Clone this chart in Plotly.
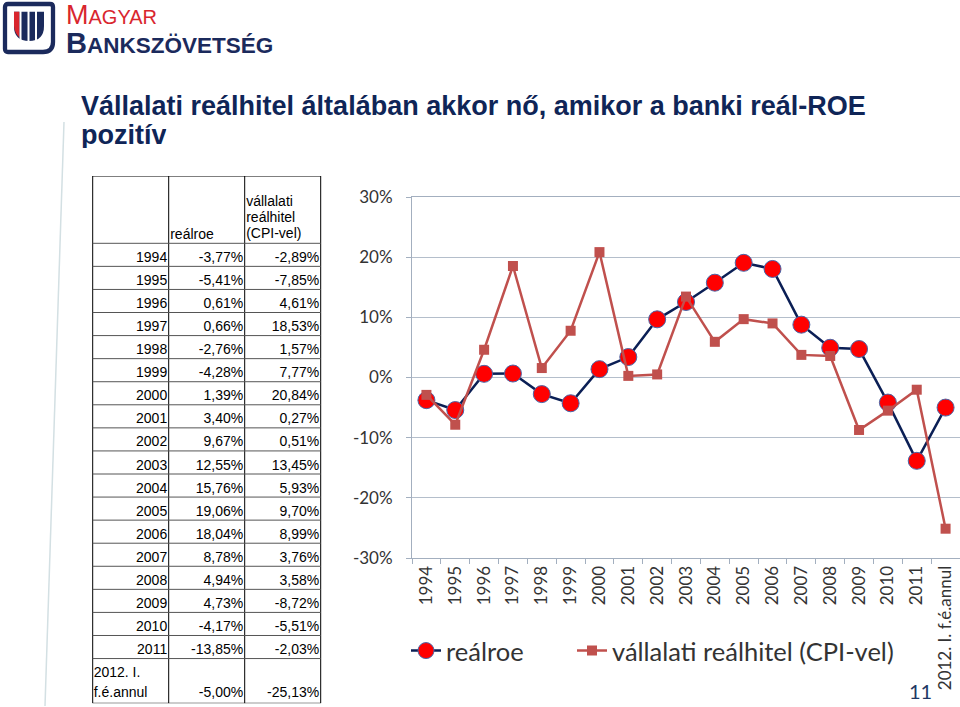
import plotly.graph_objects as go

# ---------------- data ----------------
categories = ["1994", "1995", "1996", "1997", "1998", "1999", "2000", "2001", "2002",
              "2003", "2004", "2005", "2006", "2007", "2008", "2009", "2010", "2011",
              "2012. I. f.é.annul"]
realroe = [-3.77, -5.41, 0.61, 0.66, -2.76, -4.28, 1.39, 3.40, 9.67, 12.55, 15.76,
           19.06, 18.04, 8.78, 4.94, 4.73, -4.17, -13.85, -5.00]
realhitel = [-2.89, -7.85, 4.61, 18.53, 1.57, 7.77, 20.84, 0.27, 0.51, 13.45, 5.93,
             9.70, 8.99, 3.76, 3.58, -8.72, -5.51, -2.03, -25.13]
series_names = ["reálroe", "vállalati reálhitel (CPI-vel)"]
y_tickvals = [-30, -20, -10, 0, 10, 20, 30]
y_ticktext = ["-30%", "-20%", "-10%", "0%", "10%", "20%", "30%"]
table_header_roe = "reálroe"
table_header_hitel = ["vállalati", "reálhitel", "(CPI-vel)"]
table_last_label = ["2012. I.", "f.é.annul"]
title_lines = ["Vállalati reálhitel általában akkor nő, amikor a banki reál-ROE", "pozitív"]
page_number = "11"

# ---------------- helpers ----------------
W, H = 960, 707
def px(x):
    return x / W
def py(y):
    return 1 - y / H

def fmt(v):
    return f"{v:.2f}%".replace(".", ",")

NAVY = "#0F2557"
GRID = "#B4BECB"
AXIS = "#A3AFBF"
TXT = "#333333"
CHART_FONT = "Lato"

fig = go.Figure()

# ---------------- chart ----------------
fig.add_trace(go.Scatter(
    x=categories, y=realroe, name=series_names[0], mode="lines+markers",
    line=dict(color="#0B1F55", width=2.5),
    marker=dict(symbol="circle", size=17, color="#FF0000",
                line=dict(color="#4A66A8", width=1)),
    xaxis="x", yaxis="y", hoverinfo="x+y", legend="legend"))
fig.add_trace(go.Scatter(
    x=categories, y=realhitel, name=series_names[1], mode="lines+markers",
    line=dict(color="#C0504D", width=2.5),
    marker=dict(symbol="square", size=10, color="#C0504D"),
    xaxis="x", yaxis="y", hoverinfo="x+y", legend="legend2"))

# ---------------- table (own axes in pixel units) ----------------
T_LEFT, T_RIGHT = 92.7, 320.7
T_TOP, T_HEAD_BOTTOM, T_BOTTOM = 176.0, 243.3, 703.3
ROW_H = 23.07
COLS = [92.7, 168.7, 244.7, 320.7]
n_regular = len(categories) - 1

tx_r, ty_r, tt_r = [], [], []   # right aligned texts
tx_l, ty_l, tt_l = [], [], []   # left aligned texts
for i in range(n_regular):
    yc = T_HEAD_BOTTOM + (i + 1) * ROW_H - 8
    for c, txt in enumerate([categories[i], fmt(realroe[i]), fmt(realhitel[i])]):
        tx_r.append(COLS[c + 1] - 1.5)
        ty_r.append(yc)
        tt_r.append(txt)
# last (double height) row
tx_r += [COLS[2] - 1.5, COLS[3] - 1.5]
ty_r += [T_BOTTOM - 10, T_BOTTOM - 10]
tt_r += [fmt(realroe[-1]), fmt(realhitel[-1])]
for k, line in enumerate(table_last_label):
    tx_l.append(COLS[0] + 1)
    ty_l.append(T_BOTTOM - 30 + 20 * k)
    tt_l.append(line)
# header
tx_l.append(COLS[1] + 1.5)
ty_l.append(T_HEAD_BOTTOM - 8)
tt_l.append(table_header_roe)
for k, line in enumerate(table_header_hitel):
    tx_l.append(COLS[2] + 1.5)
    ty_l.append(T_HEAD_BOTTOM - 8.5 - 16.3 * (len(table_header_hitel) - 1 - k))
    tt_l.append(line)

tfont = dict(family="Liberation Sans, Arial, sans-serif", size=14, color="#000000")
fig.add_trace(go.Scatter(x=tx_r, y=ty_r, text=tt_r, mode="text",
                         textposition="middle left", textfont=tfont,
                         xaxis="x2", yaxis="y2", showlegend=False, hoverinfo="skip"))
fig.add_trace(go.Scatter(x=tx_l, y=ty_l, text=tt_l, mode="text",
                         textposition="middle right", textfont=tfont,
                         xaxis="x2", yaxis="y2", showlegend=False, hoverinfo="skip"))

shapes = []
# table lines
for xc in COLS:
    shapes.append(dict(type="line", xref="x2", yref="y2", x0=xc, x1=xc, y0=T_TOP, y1=T_BOTTOM,
                       line=dict(color="#000000", width=1)))
hlines = [T_HEAD_BOTTOM + i * ROW_H for i in range(n_regular + 1)]
for yl in hlines:
    shapes.append(dict(type="line", xref="x2", yref="y2", x0=T_LEFT, x1=T_RIGHT, y0=yl, y1=yl,
                       line=dict(color="#555555", width=1)))
for yl in [T_TOP, T_BOTTOM]:
    shapes.append(dict(type="line", xref="x2", yref="y2", x0=T_LEFT, x1=T_RIGHT, y0=yl, y1=yl,
                       line=dict(color="#000000", width=1)))

# faint slanted decorative line
shapes.append(dict(type="line", xref="paper", yref="paper", x0=px(64), y0=py(122),
                   x1=px(45), y1=py(706), line=dict(color="#D3E0E3", width=1.5)))

# ---------------- logo ----------------
def P(x, y):
    return f"{px(x):.5f},{py(y):.5f}"

LOGO_NAVY = "#1B2A5C"
LOGO_RED = "#D9262E"
frame = (f"M {P(5,7)} Q {P(5,4)} {P(8,4)} L {P(50,4)} Q {P(53,4)} {P(53,7)} "
         f"L {P(53,42)} Q {P(53,52)} {P(43,52)} L {P(8,52)} Q {P(5,52)} {P(5,49)} Z")
shapes.append(dict(type="path", xref="paper", yref="paper", path=frame,
                   fillcolor="white", line=dict(color=LOGO_NAVY, width=4.3)))
dshape = (f"M {P(14,11.7)} L {P(44,11.7)} L {P(44,26)} "
          f"Q {P(44,41)} {P(29,41)} Q {P(14,41)} {P(14,26)} Z")
shapes.append(dict(type="path", xref="paper", yref="paper", path=dshape,
                   fillcolor=LOGO_NAVY, line=dict(width=0)))
redpart = f"M {P(14,11.7)} L {P(19.5,11.7)} L {P(19.5,37.5)} Q {P(15,34)} {P(14,26)} Z"
shapes.append(dict(type="path", xref="paper", yref="paper", path=redpart,
                   fillcolor=LOGO_RED, line=dict(width=0)))
for gx in [(19.5, 21.5), (27.5, 29.5), (35.0, 37.0)]:
    shapes.append(dict(type="rect", xref="paper", yref="paper", x0=px(gx[0]), x1=px(gx[1]),
                       y0=py(42), y1=py(11), fillcolor="white", line=dict(width=0)))

annotations = []
annotations.append(dict(xref="paper", yref="paper", x=px(64), y=py(15), xanchor="left",
                        yanchor="middle", showarrow=False, height=22,
                        text="<span style='font-size:27px'>M</span>AGYAR",
                        font=dict(family="Liberation Sans, Arial", size=20, color=LOGO_RED)))
annotations.append(dict(xref="paper", yref="paper", x=px(64), y=py(42.5), xanchor="left",
                        yanchor="middle", showarrow=False, height=24,
                        text="<b><span style='font-size:29px'>B</span>ANKSZÖVETSÉG</b>",
                        font=dict(family="Liberation Sans, Arial", size=22.5, color=LOGO_NAVY)))

# ---------------- title ----------------
for k, (line, yy) in enumerate(zip(title_lines, [106.0, 134.5])):
    annotations.append(dict(xref="paper", yref="paper", x=px(79), y=py(yy), xanchor="left",
                            yanchor="middle", showarrow=False, text=f"<b>{line}</b>",
                            height=27,
                            font=dict(family="Liberation Sans, Arial", size=27, color=NAVY)))

# page number
annotations.append(dict(xref="paper", yref="paper", x=px(920), y=py(691), xanchor="center",
                        yanchor="middle", showarrow=False, text=page_number,
                        font=dict(family=CHART_FONT, size=20, color="#1F3864")))

legend_common = dict(orientation="h", xanchor="left", y=py(651), yanchor="middle",
                     font=dict(family=CHART_FONT, size=25.5, color=TXT),
                     bgcolor="rgba(0,0,0,0)", itemwidth=30)

fig.update_layout(
    width=W, height=H,
    autosize=False,
    margin=dict(l=0, r=0, t=0, b=0, pad=0, autoexpand=False),
    paper_bgcolor="white", plot_bgcolor="white",
    xaxis=dict(domain=[px(412), 1.0], type="category", range=[-0.5, len(categories) - 0.5],
               automargin=False,
               showline=True, linecolor=AXIS, linewidth=1, mirror=True,
               ticks="outside", tickson="boundaries", ticklen=5, tickcolor=AXIS,
               tickangle=-90, tickfont=dict(family=CHART_FONT, size=17, color=TXT),
               showgrid=False, zeroline=False, fixedrange=True),
    yaxis=dict(domain=[py(558), py(197)], range=[-30, 30], automargin=False,
               tickmode="array", tickvals=y_tickvals, ticktext=y_ticktext,
               showgrid=True, gridcolor=GRID, gridwidth=1,
               showline=True, linecolor=AXIS, linewidth=1,
               ticks="outside", ticklen=5, tickcolor=AXIS, ticklabelstandoff=10,
               tickfont=dict(family=CHART_FONT, size=17, color=TXT),
               zeroline=False, fixedrange=True),
    xaxis2=dict(domain=[px(92), px(322)], range=[92, 322], visible=False, fixedrange=True,
                automargin=False, anchor="y2"),
    yaxis2=dict(domain=[py(703.3), py(176)], range=[703.3, 176], visible=False,
                fixedrange=True, anchor="x2", automargin=False),
    legend=dict(legend_common, x=px(406)),
    legend2=dict(legend_common, x=px(572)),
    shapes=shapes, annotations=annotations,
    showlegend=True,
)

fig.write_html("out.html", config={"displayModeBar": False},
               post_script="document.body.style.margin='0px';")
